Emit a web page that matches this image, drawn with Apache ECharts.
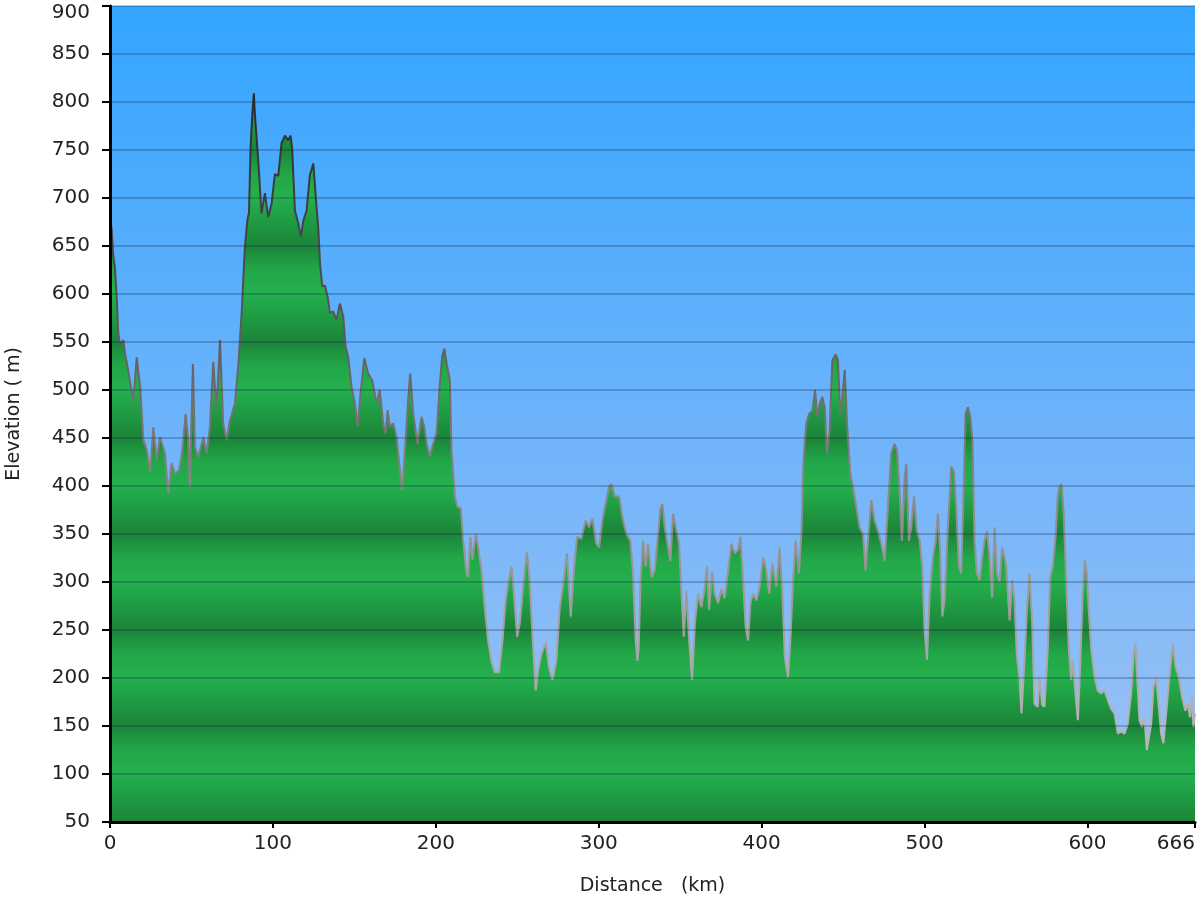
<!DOCTYPE html>
<html>
<head>
<meta charset="utf-8">
<script src="https://cdn.jsdelivr.net/npm/echarts@6/dist/echarts.min.js"></script>
<style>
html,body{margin:0;padding:0;background:#fff;}
#chart{width:1200px;height:900px;}
</style>
</head>
<body>
<div id="chart"></div>
<script>
// Distance along route (km)
const km = [
0,1,2,3,4.1,5.1,6.1,8.2,9.2,11.2,14.3,16.4,18.5,20.5,22.6,24.7,26.6,28.6,30.7,33.7,35.8,37.8,39.9,42.3,44.4,46.4,48,49,50.9,52.1,54.2,57.3,59.3,61.3,63.4,65.4,67.5,69.5,71.6,73.6,76.7,78.8,80.8,82.8,84.4,85.3,86.3,87.5,88.3,88.9,91,93,95.1,97.1,99.2,101.2,103.3,105.3,107.4,109.4,110.8,111.8,113.5,115.5,117.2,118.6,120.7,122.7,124.8,126.8,127.8,128.9,130.3,131.9,133.6,135,137,139.1,141.1,143.2,144.6,146.2,148.3,150.3,152,154,156.1,158.5,161,163.6,165.6,167.7,169.1,170.4,171.8,173.8,175.9,177.3,179.4,181,183,184.3,186.1,188.8,191.2,192.9,194.3,196.3,198.4,200.4,202.5,203.9,205.2,206.6,208.6,209.6,211.7,213.3,215.3,216.8,218.8,219.8,221.2,222.5,224.5,226,228,230,232.1,234.1,236.2,238.8,240.9,242.9,244.4,246.4,247.8,249.9,251.5,254,256,257.6,259.3,261.3,262.8,264.8,267.5,269.5,271.6,274,276.1,278.5,280.5,282.8,284.6,286.7,289.3,292,294,296.1,298.5,300.2,302.2,304.7,306.3,307.7,309.8,312.5,314.9,317,319.4,321,322.7,323.7,324.5,325.6,327.2,328.8,330.3,332.4,334.4,336.4,337.9,339.1,340.5,342.6,344,345.6,347.3,349.3,350.8,352.2,353.8,355.5,357.3,359,361,363,365.1,366.5,367.7,369.6,371.2,373.3,375.3,377.3,379.4,381.4,383.5,385.5,387,388.6,390.2,391.7,393.1,394.7,396.8,398.8,400.9,402.5,404.6,406.6,409,411.1,412.7,414.2,416.2,417.6,419.3,420.9,422.9,424.4,425.8,427.4,429.1,431.1,432.8,434.2,435.6,437.2,438.7,440.1,441.7,443.4,445.4,446.8,448.3,449.9,451,452.4,454.4,456,458.1,460.1,462.2,463.8,465.9,467.3,469.3,471.4,473.4,475.5,477.5,479.6,481.6,483,484.7,486.1,487.7,488.8,490.4,491.8,493.5,495.3,497,498.6,500,501.5,503.1,505.1,506.8,508.2,509.6,510.9,512.3,514.3,516.4,517.8,519.4,521.1,522.5,524,525.2,526.6,528.1,529.3,530.7,532.1,533.8,535.4,536.8,538.3,539.9,541.5,543,544.4,546,547.6,549.1,550.1,552.2,553.8,555.2,556.6,558.3,559.5,561.3,562.8,564.4,566,567.5,569.5,570.5,572.2,573.6,575.7,577.1,578.7,580.4,581.8,582.8,584,585.3,586.9,588.5,590,591,592.6,594.1,595.5,597.1,598.4,599.6,600.8,602.2,604.3,606.3,608.4,610.4,612.5,614.5,616.6,618.6,620.6,622.7,624.7,626.8,628.4,629.4,630.5,631.9,633.5,635,636.4,637.6,639.1,640.5,642.1,643.8,645.2,646.6,648.3,649.9,651.3,652.3,654,656,658.1,660.1,661.5,663,664.2,665,666
];
// Elevation (m)
const elev = [
678,668,640,628,597,559,548,552,538,520,489,534,503,448,437,415,461,427,451,434,392,424,413,416,437,475,448,399,527,441,430,451,434,461,529,479,552,465,448,468,486,527,580,649,678,684,753,791,809,788,739,684,705,680,694,725,723,757,765,760,765,752,687,674,660,676,687,724,736,690,670,632,608,609,597,580,582,573,590,576,545,535,503,486,462,500,533,517,510,486,500,465,455,479,462,465,451,427,396,437,490,517,476,444,472,462,444,431,444,455,507,535,543,528,510,437,389,378,377,343,309,305,347,323,350,336,312,274,239,218,206,206,239,281,298,316,291,243,257,302,331,302,246,187,208,225,237,211,198,218,274,302,330,264,309,347,345,364,357,366,340,336,364,385,399,402,389,389,364,350,343,309,239,218,230,300,343,316,340,305,312,350,377,381,357,336,322,371,357,340,288,243,291,239,198,257,288,274,295,316,271,311,288,278,293,283,312,340,330,333,347,302,253,239,278,288,281,295,326,316,288,319,295,336,291,222,201,239,302,343,309,350,430,465,475,478,500,472,485,493,482,434,458,531,537,531,474,500,521,465,413,399,378,357,350,312,357,385,364,353,340,322,378,434,444,437,392,343,406,423,343,357,389,353,343,316,250,219,288,326,343,371,330,264,281,357,420,416,378,316,309,396,475,482,472,448,343,309,302,326,343,353,326,284,357,309,300,336,326,316,260,302,281,225,198,163,218,270,309,260,173,170,201,172,170,232,305,316,347,389,399,402,375,302,232,198,218,184,156,212,288,323,309,270,232,201,187,184,187,177,168,163,142,145,142,152,184,225,236,201,156,149,159,125,125,152,191,201,170,142,132,163,194,218,236,212,201,180,166,173,159,180,149,163
];
const xMin = 0, xMax = 666, xStep = 100;
const yMin = 50, yMax = 900, yStep = 50;
const xTitle = 'Distance   (km)';
const yTitle = 'Elevation ( m)';

const GRID_TOP = 6, GRID_BOTTOM_Y = 822;

const chart = echarts.init(document.getElementById('chart'), null, {renderer: 'canvas'});

// banded green fill: dark at 150,250,... light at 100,200,...
const bandStops = [];
for (let v = yMax; v >= yMin; v -= 25) {
  let color;
  const r = ((v % 100) + 100) % 100;
  if (r === 0) color = '#24b04d';
  else if (r === 50) color = '#1b8439';
  else if (r === 75) color = '#1f9a42';
  else color = '#22a748';
  bandStops.push({offset: (yMax - v) / (yMax - yMin), color: color});
}

const data = km.map((k, i) => [k, elev[i]]);
const labelFont = 'DejaVu Sans, Verdana, sans-serif';

chart.setOption({
  animation: false,
  backgroundColor: '#ffffff',
  grid: {
    left: 110, right: 5, top: GRID_TOP, bottom: 900 - GRID_BOTTOM_Y,
    containLabel: false,
    outerBoundsMode: 'none',
    show: true, borderWidth: 0,
    backgroundColor: {
      type: 'linear', x: 0, y: 0, x2: 0, y2: 1,
      colorStops: [
        {offset: 0, color: '#33a5ff'},
        {offset: 0.5, color: '#6cb3fb'},
        {offset: 1, color: '#a2c3f3'}
      ]
    }
  },
  xAxis: {
    type: 'value', min: xMin, max: xMax, interval: xStep, z: 5,
    name: xTitle, nameLocation: 'middle', nameGap: 55,
    nameTextStyle: {fontFamily: labelFont, fontSize: 19, color: '#222'},
    axisLine: {show: true, onZero: false, lineStyle: {color: '#000', width: 3}},
    axisTick: {show: true, length: 6, lineStyle: {color: '#000', width: 2}},
    axisLabel: {fontFamily: labelFont, fontSize: 20, color: '#222', margin: 12,
      showMaxLabel: true, alignMaxLabel: 'right'},
    splitLine: {show: false}
  },
  yAxis: {
    type: 'value', min: yMin, max: yMax, interval: yStep, z: 5,
    name: yTitle, nameLocation: 'middle', nameGap: 86, nameRotate: 90,
    nameTextStyle: {fontFamily: labelFont, fontSize: 19, color: '#222'},
    axisLine: {show: true, onZero: false, lineStyle: {color: '#000', width: 3}},
    axisTick: {show: true, length: 8, lineStyle: {color: '#000', width: 2}},
    axisLabel: {fontFamily: labelFont, fontSize: 20, color: '#222', margin: 20,
      formatter: function (v) { return v === yMax ? '{t|' + v + '}' : String(v); },
      rich: {t: {fontFamily: labelFont, fontSize: 20, color: '#222', padding: [14, 0, 0, 0]}}
    },
    splitLine: {show: true, lineStyle: {color: 'rgba(20,40,70,0.35)', width: 1.5}}
  },
  series: [{
    type: 'line',
    data: data,
    symbol: 'none',
    smooth: false,
    z: 2,
    lineStyle: {
      width: 2,
      color: {
        type: 'linear', global: true, x: 0, y: GRID_TOP, x2: 0, y2: GRID_BOTTOM_Y,
        colorStops: [
          {offset: 0, color: '#1a1a1a'},
          {offset: 0.35, color: '#505050'},
          {offset: 0.6, color: '#8a8a8a'},
          {offset: 1, color: '#c4c4c4'}
        ]
      }
    },
    areaStyle: {
      opacity: 1,
      origin: 'start',
      color: {
        type: 'linear', global: true, x: 0, y: GRID_TOP, x2: 0, y2: GRID_BOTTOM_Y,
        colorStops: bandStops
      }
    }
  }]
});
</script>
</body>
</html>
